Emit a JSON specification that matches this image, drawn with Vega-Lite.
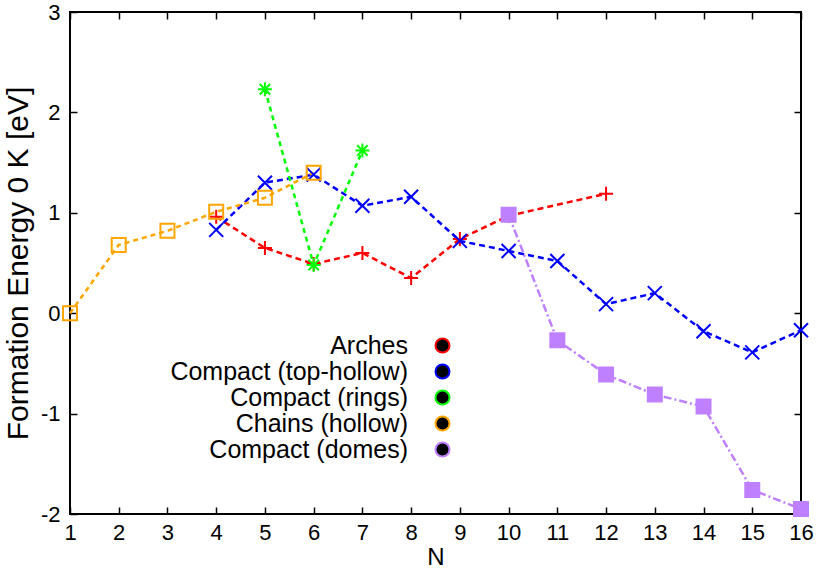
{
  "$schema": "https://vega.github.io/schema/vega-lite/v6.json",
  "width": 731,
  "height": 502,
  "autosize": {"type": "none"},
  "padding": {"left": 70, "top": 12, "right": 21, "bottom": 58},
  "background": "white",
  "config": {
    "view": {"stroke": "black", "strokeWidth": 2},
    "font": "Liberation Sans",
    "axis": {"grid": false, "domain": false, "tickColor": "black", "tickWidth": 1.5, "labelColor": "black", "titleColor": "black", "labelFont": "Liberation Sans", "titleFont": "Liberation Sans", "titleFontWeight": "normal"},
    "legend": {"labelFont": "Liberation Sans", "orient": "none", "legendX": 360, "legendY": 321, "title": null, "padding": 0,
               "labelFontSize": 25, "labelAlign": "right", "labelOffset": -47, "labelLimit": 500, "labelColor": "black",
               "symbolSize": 196, "symbolStrokeWidth": 2, "rowPadding": 0}
  },
  "data": {"values": [
    {"N": 4, "E": 0.96, "s": "Arches"},
    {"N": 5, "E": 0.65, "s": "Arches"},
    {"N": 6, "E": 0.49, "s": "Arches"},
    {"N": 7, "E": 0.60, "s": "Arches"},
    {"N": 8, "E": 0.35, "s": "Arches"},
    {"N": 9, "E": 0.74, "s": "Arches"},
    {"N": 10, "E": 0.97, "s": "Arches"},
    {"N": 12, "E": 1.19, "s": "Arches"},
    {"N": 4, "E": 0.83, "s": "Compact (top-hollow)"},
    {"N": 5, "E": 1.30, "s": "Compact (top-hollow)"},
    {"N": 6, "E": 1.38, "s": "Compact (top-hollow)"},
    {"N": 7, "E": 1.07, "s": "Compact (top-hollow)"},
    {"N": 8, "E": 1.16, "s": "Compact (top-hollow)"},
    {"N": 9, "E": 0.72, "s": "Compact (top-hollow)"},
    {"N": 10, "E": 0.62, "s": "Compact (top-hollow)"},
    {"N": 11, "E": 0.52, "s": "Compact (top-hollow)"},
    {"N": 12, "E": 0.09, "s": "Compact (top-hollow)"},
    {"N": 13, "E": 0.20, "s": "Compact (top-hollow)"},
    {"N": 14, "E": -0.18, "s": "Compact (top-hollow)"},
    {"N": 15, "E": -0.39, "s": "Compact (top-hollow)"},
    {"N": 16, "E": -0.17, "s": "Compact (top-hollow)"},
    {"N": 5, "E": 2.23, "s": "Compact (rings)"},
    {"N": 6, "E": 0.48, "s": "Compact (rings)"},
    {"N": 7, "E": 1.62, "s": "Compact (rings)"},
    {"N": 1, "E": 0.0, "s": "Chains (hollow)"},
    {"N": 2, "E": 0.68, "s": "Chains (hollow)"},
    {"N": 3, "E": 0.82, "s": "Chains (hollow)"},
    {"N": 4, "E": 1.01, "s": "Chains (hollow)"},
    {"N": 5, "E": 1.15, "s": "Chains (hollow)"},
    {"N": 6, "E": 1.40, "s": "Chains (hollow)"},
    {"N": 10, "E": 0.98, "s": "Compact (domes)"},
    {"N": 11, "E": -0.27, "s": "Compact (domes)"},
    {"N": 12, "E": -0.61, "s": "Compact (domes)"},
    {"N": 13, "E": -0.81, "s": "Compact (domes)"},
    {"N": 14, "E": -0.93, "s": "Compact (domes)"},
    {"N": 15, "E": -1.76, "s": "Compact (domes)"},
    {"N": 16, "E": -1.95, "s": "Compact (domes)"}
  ]},
  "resolve": {"axis": {"x": "independent", "y": "independent"}},
  "layer": [
    {
      "mark": {"type": "line"},
      "encoding": {
        "x": {"field": "N", "type": "quantitative", "scale": {"domain": [1, 16], "nice": false, "zero": false},
              "axis": {"orient": "bottom", "values": [1,2,3,4,5,6,7,8,9,10,11,12,13,14,15,16], "tickSize": -7, "labelPadding": 15, "labelFontSize": 22, "title": "N", "titleFontSize": 24, "titlePadding": 2, "labelFlush": false}},
        "y": {"field": "E", "type": "quantitative", "scale": {"domain": [-2, 3], "nice": false, "zero": false},
              "axis": {"orient": "left", "values": [-2,-1,0,1,2,3], "tickSize": -7, "labelPadding": 17, "labelFontSize": 22, "title": "Formation Energy 0 K [eV]", "titleFontSize": 30, "titlePadding": 7,
                       "labelExpr": "datum.value < 0 ? '-' + abs(datum.value) : '' + datum.value"}},
        "stroke": {"field": "s", "type": "nominal",
                   "scale": {"domain": ["Arches", "Compact (top-hollow)", "Compact (rings)", "Chains (hollow)", "Compact (domes)"], "range": ["#ff0000", "#0000ff", "#00ff00", "#ffa500", "#bf80ff"]}},
        "strokeDash": {"field": "s", "type": "nominal", "legend": null,
                   "scale": {"range": [[6,4],[5,4],[8,3,2,3],[5,4],[6,4]]}},
        "strokeWidth": {"field": "s", "type": "nominal", "legend": null,
                   "scale": {"range": [2.5, 2.5, 1, 2.5, 3]}},
        "detail": {"field": "s"}
      }
    },
    {
      "mark": {"type": "point", "filled": false, "strokeWidth": 2, "size": 196, "opacity": 1},
      "encoding": {
        "x": {"field": "N", "type": "quantitative",
              "axis": {"orient": "top", "values": [1,2,3,4,5,6,7,8,9,10,11,12,13,14,15,16], "tickSize": -7, "labels": false, "title": null}},
        "y": {"field": "E", "type": "quantitative",
              "axis": {"orient": "right", "values": [-2,-1,0,1,2,3], "tickSize": -7, "labels": false, "title": null}},
        "stroke": {"field": "s", "type": "nominal",
                   "legend": {"encode": {"symbols": {
                                "size": {"value": 196},
                                "strokeDash": {"value": [1, 0]},
                                "strokeWidth": {"condition": {"test": "datum.value === 'Compact (domes)'", "value": 1.2}, "value": 2},
                                "fill": {"condition": {"test": "datum.value === 'Compact (domes)'", "value": "#bf80ff"}, "value": "transparent"},
                                "shape": {"condition": [
                                  {"test": "datum.value === 'Arches'", "value": "M-3.2,0H-2.7M-2.3,0H-1.8M-1.4,0H-0.9M0.9,0H1.4M1.8,0H2.3M2.7,0H3.2M-1,0H1M0,-1V1"},
                                  {"test": "datum.value === 'Compact (top-hollow)'", "value": "M-3.2,0H-2.7M-2.3,0H-1.8M-1.4,0H-0.9M0.9,0H1.4M1.8,0H2.3M2.7,0H3.2M-1,-1L1,1M-1,1L1,-1"},
                                  {"test": "datum.value === 'Compact (rings)'", "value": "M-3.2,0H-2.7M-2.3,0H-1.8M-1.4,0H-0.9M0.9,0H1.4M1.8,0H2.3M2.7,0H3.2M-1,0H1M0,-1V1M-0.75,-0.75L0.75,0.75M-0.75,0.75L0.75,-0.75"},
                                  {"test": "datum.value === 'Chains (hollow)'", "value": "M-3.2,0H-2.7M-2.3,0H-1.8M-1.4,0H-0.9M0.9,0H1.4M1.8,0H2.3M2.7,0H3.2M-1,0H1M-1,-1H1V1H-1Z"}
                                ], "value": "M-3.2,0H-2.5M-2.2,0H-2M-1.7,0H-1.1M1.1,0H1.7M2,0H2.2M2.5,0H3.2M-1,-1H1V1H-1Z"}
                              }}}},
        "fill": {"field": "s", "type": "nominal", "legend": null,
                 "scale": {"range": ["transparent", "transparent", "#bf80ff", "transparent", "transparent"]}},
        "shape": {"field": "s", "type": "nominal", "legend": null,
                  "scale": {"range": ["M-1,0H1M0,-1V1", "M-1,-1H1V1H-1Z", "M-1,-1H1V1H-1Z", "M-1,0H1M0,-1V1M-0.75,-0.75L0.75,0.75M-0.75,0.75L0.75,-0.75", "M-1,-1L1,1M-1,1L1,-1"]}}
      }
    }
  ]
}
